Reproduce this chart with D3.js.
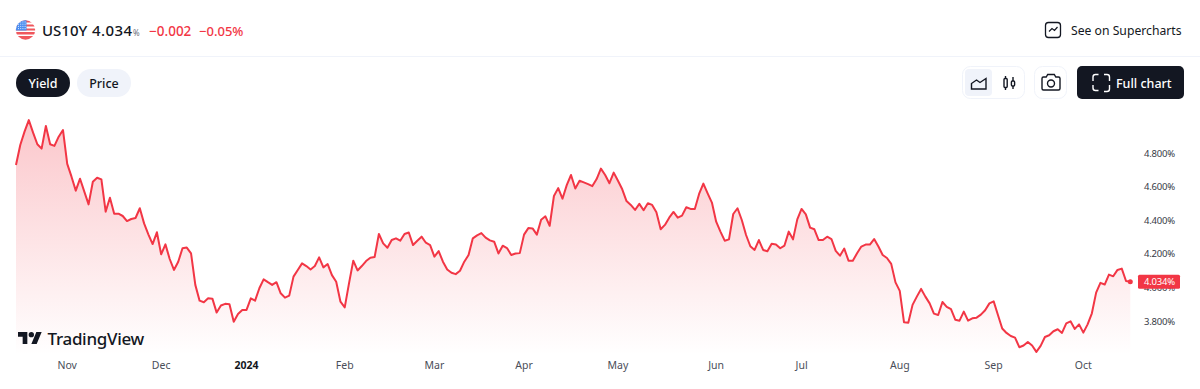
<!DOCTYPE html>
<html><head><meta charset="utf-8">
<script src="https://cdn.jsdelivr.net/npm/d3@7"></script>
<style>html,body{margin:0;padding:0;background:#fff;overflow:hidden}svg{display:block}text{font-family:"Noto Sans",sans-serif}</style>
</head><body><svg id="c" width="1200" height="389"></svg>
<script>
const yieldValues=[4.729,4.848,4.927,4.996,4.921,4.852,4.826,4.961,4.852,4.842,4.897,4.937,4.735,4.659,4.576,4.647,4.570,4.494,4.629,4.653,4.643,4.451,4.534,4.439,4.439,4.425,4.395,4.407,4.413,4.471,4.381,4.316,4.258,4.328,4.197,4.256,4.169,4.104,4.153,4.233,4.237,4.203,
4.015,3.921,3.912,3.935,3.933,3.850,3.892,3.902,3.900,3.796,3.842,3.866,3.866,3.935,3.921,3.995,4.048,4.031,4.015,4.031,3.965,3.939,3.951,4.064,4.104,
4.143,4.127,4.107,4.127,4.179,4.119,4.139,4.073,4.034,3.915,3.881,4.024,4.159,4.101,4.127,4.157,4.177,4.181,4.318,4.262,4.236,4.282,4.292,4.278,4.318,4.327,4.252,4.278,4.302,4.266,4.252,4.183,4.216,4.153,4.107,4.087,4.079,4.099,4.153,4.193,4.292,4.310,4.323,4.296,4.280,4.272,4.202,4.248,4.234,4.193,4.202,4.204,4.314,4.353,4.351,4.314,4.403,4.423,4.367,4.544,4.591,4.528,4.609,4.669,4.589,4.635,4.625,4.615,4.603,4.645,
4.707,4.669,4.620,4.683,4.635,4.584,4.514,4.491,4.461,4.497,4.459,4.501,4.491,4.447,4.346,4.372,4.415,4.449,4.415,4.427,4.477,4.467,4.467,4.556,4.618,4.560,4.505,4.391,4.332,4.278,4.286,4.437,4.471,4.401,4.312,4.245,4.223,4.282,4.223,4.215,4.260,4.256,4.233,4.249,4.332,4.286,4.405,4.467,4.435,4.356,4.346,4.282,4.282,4.302,4.288,4.217,4.189,4.231,4.159,4.159,
4.203,4.243,4.255,4.255,4.288,4.243,4.193,4.175,4.140,4.030,3.979,3.792,3.790,3.896,3.945,3.991,3.945,3.905,3.844,3.836,3.913,3.884,3.870,3.808,3.802,3.856,3.802,3.816,3.820,3.838,3.864,3.905,3.917,3.836,3.755,3.729,3.711,3.701,3.644,3.654,3.675,3.654,3.616,3.652,3.705,3.715,3.739,3.751,3.729,3.786,3.798,3.753,3.780,3.731,3.780,3.846,3.969,4.027,4.017,4.076,4.066,4.104,4.112,4.038,4.034];
const monthLabels=["Nov","Dec","2024","Feb","Mar","Apr","May","Jun","Jul","Aug","Sep","Oct"];
const monthIndex=[12,34,54,77,98,119,141,164,184,207,229,250];
const priceTicks=[4.8,4.6,4.4,4.2,4.0,3.8];
const lastValue=4.034;

const ink="#131722",red="#f23645",pale="#f0f3fa";
const svg=d3.select("#c");
const defs=svg.append("defs");
const x=d3.scaleLinear().domain([0,yieldValues.length-1]).range([16,1130.3]);
const y=d3.scaleLinear().domain([3.8,4.8]).range([321,153]);
const bottom=355;

const g=defs.append("linearGradient").attr("id","fade").attr("gradientUnits","userSpaceOnUse")
  .attr("x1",0).attr("x2",0).attr("y1",y(d3.max(yieldValues))).attr("y2",bottom);
g.append("stop").attr("offset",0).attr("stop-color",red).attr("stop-opacity",0.28);
g.append("stop").attr("offset",1).attr("stop-color",red).attr("stop-opacity",0);

svg.append("path").attr("d",d3.area().x((d,i)=>x(i)).y0(bottom).y1(d=>y(d))(yieldValues)).attr("fill","url(#fade)");
svg.append("path").attr("d",d3.line().x((d,i)=>x(i)).y(d=>y(d))(yieldValues))
  .attr("fill","none").attr("stroke",red).attr("stroke-width",2).attr("stroke-linejoin","round");
svg.append("circle").attr("cx",x(yieldValues.length-1)).attr("cy",y(lastValue)).attr("r",2.5).attr("fill",red);

// axes
const ya=svg.append("g").attr("transform","translate(1175,0)")
  .call(d3.axisRight(y).tickValues(priceTicks).tickSize(0).tickPadding(0).tickFormat(d=>d3.format(".3f")(d)+"%"));
ya.select(".domain").remove();
ya.selectAll("text").attr("text-anchor","end").attr("fill","#363a45").attr("font-size",9.5).attr("letter-spacing",-0.2).style("font-family",'"Noto Sans",sans-serif');

const xa=svg.append("g").attr("transform","translate(-0.5,362)")
  .call(d3.axisBottom(x).tickValues(monthIndex).tickSize(0).tickPadding(0).tickFormat((d,i)=>monthLabels[i]));
xa.select(".domain").remove();
xa.selectAll("text").attr("font-size",10.5).style("font-family",'"Noto Sans",sans-serif')
  .attr("font-weight",(d,i)=>monthLabels[i]==="2024"?700:400).attr("fill",(d,i)=>monthLabels[i]==="2024"?ink:"#4a4e59");

// last price label
svg.append("rect").attr("x",1138).attr("y",y(lastValue)-7).attr("width",42).attr("height",14).attr("rx",1.5).attr("fill",red);
svg.append("text").attr("x",1175).attr("y",y(lastValue)+3.4).attr("text-anchor","end").attr("fill","#fff").attr("font-size",9.5).attr("letter-spacing",-0.2).text(d3.format(".3f")(lastValue)+"%");

// logo
const logo=svg.append("g").attr("transform","translate(18,329.3) scale(.667)").attr("fill",ink);
logo.append("path").attr("d","M14 22H7V11H0V4h14v18zM28 22h-8l7.5-18h8L28 22z");
logo.append("circle").attr("cx",20).attr("cy",8).attr("r",4);
svg.append("text").attr("x",47.5).attr("y",344.5).attr("font-size",17).attr("font-weight",500).attr("fill",ink).attr("letter-spacing",-0.3).text("TradingView");

// header
svg.append("line").attr("x1",0).attr("x2",1200).attr("y1",56.5).attr("y2",56.5).attr("stroke",pale);
defs.append("clipPath").attr("id","flagc").append("circle").attr("cx",25.5).attr("cy",30).attr("r",9.7);
const fl=svg.append("g").attr("clip-path","url(#flagc)");
fl.append("rect").attr("x",15).attr("y",20).attr("width",21).attr("height",20).attr("fill","#fff");
[[20,2.5],[24.5,2],[28.5,2],[32,2.5],[36,4]].forEach(s=>fl.append("rect").attr("x",15).attr("y",s[0]).attr("width",21).attr("height",s[1]).attr("fill","#f0565c"));
fl.append("rect").attr("x",15).attr("y",20).attr("width",11.5).attr("height",10.5).attr("fill","#4c8ef0");
d3.range(4).forEach(r=>d3.range(4).forEach(c=>fl.append("rect").attr("x",18+c*2.2).attr("y",21.5+r*2.2).attr("width",1).attr("height",1).attr("fill","#dbe8fb")));
svg.append("text").attr("x",42).attr("y",35.5).attr("font-size",15).attr("font-weight",500).attr("fill",ink).text("US10Y");
svg.append("text").attr("x",92).attr("y",35.5).attr("font-size",15).attr("font-weight",500).attr("letter-spacing",0.4).attr("fill",ink).text("4.034");
svg.append("text").attr("x",133).attr("y",35.5).attr("font-size",8).attr("fill","#6a6d78").text("%");
svg.append("text").attr("x",149).attr("y",35.5).attr("font-size",13.5).attr("font-weight",500).attr("fill",red).text("\u22120.002");
svg.append("text").attr("x",199).attr("y",35.5).attr("font-size",13).attr("font-weight",500).attr("fill",red).text("\u22120.05%");

// pills
svg.append("rect").attr("x",16).attr("y",69).attr("width",54).attr("height",28).attr("rx",14).attr("fill",ink);
svg.append("text").attr("x",43).attr("y",88).attr("text-anchor","middle").attr("font-size",12.5).attr("font-weight",500).attr("fill","#fff").text("Yield");
svg.append("rect").attr("x",77).attr("y",69).attr("width",54).attr("height",28).attr("rx",14).attr("fill",pale);
svg.append("text").attr("x",104).attr("y",88).attr("text-anchor","middle").attr("font-size",12.5).attr("font-weight",500).attr("fill",ink).text("Price");

// see on supercharts
svg.append("rect").attr("x",1045.5).attr("y",22.5).attr("width",15).attr("height",15).attr("rx",3).attr("fill","none").attr("stroke",ink).attr("stroke-width",1.3);
svg.append("path").attr("d","M1049 31.5l3-3 2.500 2 3-3.500").attr("fill","none").attr("stroke",ink).attr("stroke-width",1.2);
svg.append("text").attr("x",1071).attr("y",35).attr("font-size",12.2).attr("fill",ink).text("See on Supercharts");

// tool buttons
svg.append("rect").attr("x",962.5).attr("y",66.5).attr("width",62).attr("height",32).attr("rx",8).attr("fill","#fff").attr("stroke",pale);
svg.append("rect").attr("x",965).attr("y",69).attr("width",27).attr("height",27).attr("rx",4).attr("fill",pale);
svg.append("path").attr("d","M971.500 89v-5.500l5-3.500 3.500 2.500 6-4v10.500z").attr("fill","none").attr("stroke",ink).attr("stroke-width",1.4);
svg.append("path").attr("d","M1005.500 76v3M1005.500 87v3M1013 77v4M1013 86v3").attr("stroke",ink).attr("stroke-width",1.4);
svg.append("rect").attr("x",1004).attr("y",78.500).attr("width",3.200).attr("height",9).attr("rx",1).attr("fill","none").attr("stroke",ink).attr("stroke-width",1.4);
svg.append("rect").attr("x",1011.400).attr("y",81).attr("width",3.200).attr("height",5).attr("rx",1).attr("fill","none").attr("stroke",ink).attr("stroke-width",1.4);
svg.append("rect").attr("x",1034.500).attr("y",66.500).attr("width",32).attr("height",32).attr("rx",8).attr("fill","#fff").attr("stroke",pale);
svg.append("path").attr("d","M1043.500 77h2.700l1.500-2.500h6.600l1.500 2.500h2.700q1.500 0 1.500 1.500v10q0 1.500-1.500 1.500h-15q-1.500 0-1.500-1.500v-10q0-1.500 1.500-1.500z").attr("fill","none").attr("stroke",ink).attr("stroke-width",1.4);
svg.append("circle").attr("cx",1051).attr("cy",83.500).attr("r",3.500).attr("fill","none").attr("stroke",ink).attr("stroke-width",1.4);

svg.append("rect").attr("x",1077).attr("y",66).attr("width",107).attr("height",33).attr("rx",5).attr("fill",ink);
svg.append("path").attr("d","M1093 81v-4q0-2.500 2.500-2.500h3M1104 74.500h3q2.500 0 2.500 2.500v4M1109.500 85v4q0 2.500-2.500 2.500h-3M1098.500 90.500h-3q-2.500 0-2.500-2.500v-3")
  .attr("fill","none").attr("stroke","#fff").attr("stroke-width",1.4);
svg.append("text").attr("x",1116).attr("y",88).attr("font-size",12.5).attr("font-weight",500).attr("fill","#fff").text("Full chart");
</script></body></html>
